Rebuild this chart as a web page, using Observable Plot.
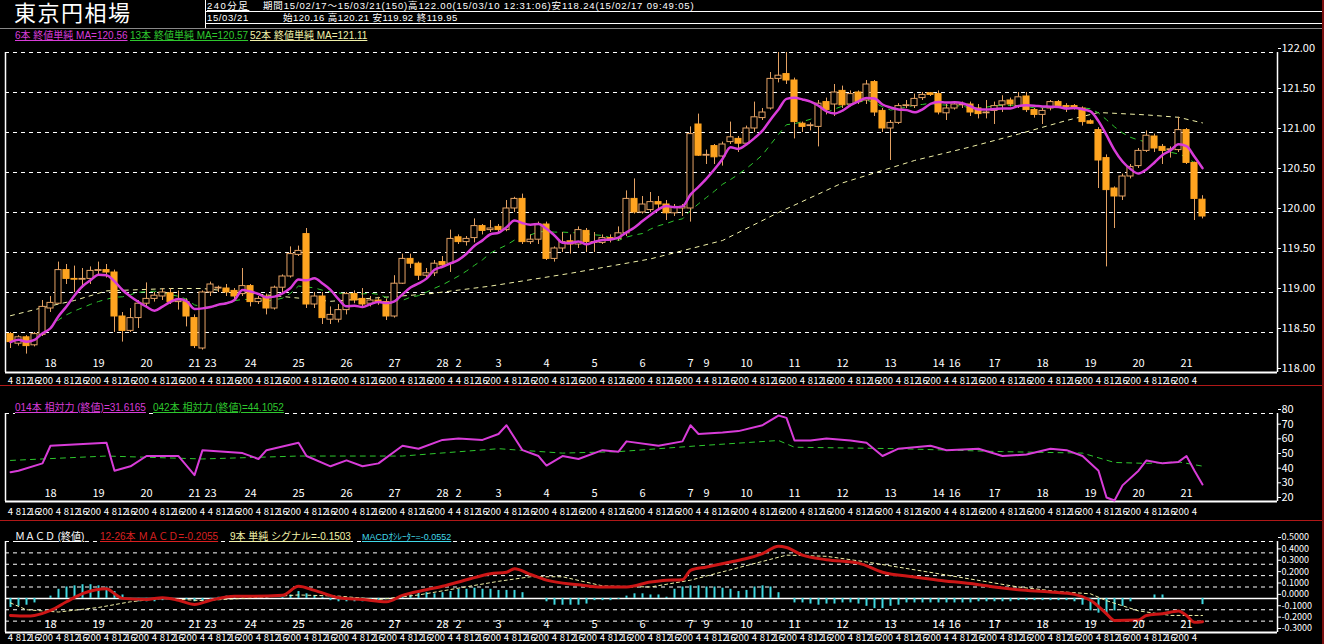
<!DOCTYPE html>
<html><head><meta charset="utf-8">
<script src="https://cdn.jsdelivr.net/npm/d3@7"></script>
<script src="https://cdn.jsdelivr.net/npm/@observablehq/plot@0.6"></script>
<style>
html,body{margin:0;padding:0;background:#000;}
#wrap{position:relative;width:1324px;height:644px;overflow:hidden;background:#000;font-family:"Noto Sans CJK JP","DejaVu Sans",sans-serif;color:#fff;}
.panel{position:absolute;left:0;}
.t{position:absolute;white-space:nowrap;font-family:"Liberation Sans","Noto Sans CJK JP",sans-serif;}
.u{text-decoration:underline;}
.ln{position:absolute;background:#fff;}
g[aria-label="hours"] text{letter-spacing:-1px;}
</style></head>
<body><div id="wrap">
<div class="panel" id="p1" style="top:0"></div>
<div class="panel" id="p2" style="top:395px"></div>
<div class="panel" id="p3" style="top:520px"></div>
</div>
<script>
// ---------- data ----------
const opens = [118.48,118.36,118.44,118.34,118.47,118.80,118.86,119.28,119.17,119.16,119.17,119.27,119.28,119.25,118.70,118.52,118.68,118.86,118.92,118.95,118.99,118.88,118.88,118.68,118.30,119.00,119.05,119.05,119.02,118.98,119.08,118.88,118.95,118.80,119.06,119.20,119.47,119.73,118.85,118.95,118.66,118.66,118.78,118.98,118.92,118.86,118.90,118.88,118.70,119.11,119.42,119.36,119.21,119.24,119.38,119.36,119.69,119.63,119.68,119.83,119.78,119.82,119.78,120.05,120.17,119.63,119.66,119.85,119.42,119.55,119.64,119.60,119.77,119.63,119.62,119.68,119.67,119.74,120.17,120.00,120.03,120.13,120.10,119.99,120.05,120.05,121.10,120.71,120.83,120.70,120.88,120.92,120.86,121.05,121.18,121.30,121.67,121.73,121.65,121.11,121.08,121.07,121.38,121.35,121.52,121.35,121.50,121.40,121.63,121.27,121.05,121.12,121.33,121.33,121.43,121.49,121.48,121.24,121.30,121.34,121.35,121.30,121.24,121.27,121.34,121.40,121.33,121.45,121.28,121.22,121.30,121.38,121.33,121.33,121.30,121.14,121.03,120.68,120.30,120.20,120.45,120.58,120.77,120.95,120.82,120.78,120.78,121.03,120.62,120.16];
const highs = [118.50,118.46,118.46,118.50,118.90,118.95,119.38,119.35,119.33,119.30,119.32,119.38,119.35,119.28,118.75,118.80,118.90,119.12,119.00,119.05,119.05,119.02,118.92,118.72,119.02,119.13,119.08,119.10,119.05,119.30,119.10,118.95,118.98,119.08,119.22,119.57,119.58,119.80,119.00,119.00,118.82,118.85,119.00,119.02,119.05,118.95,118.94,118.92,119.21,119.48,119.48,119.38,119.30,119.40,119.45,119.78,119.72,119.70,119.92,119.85,119.90,119.85,120.15,120.19,120.23,119.72,119.88,119.88,119.57,119.75,119.72,119.82,119.80,119.75,119.72,119.72,119.82,120.27,120.42,120.20,120.25,120.20,120.15,120.10,120.10,121.07,121.23,120.78,120.85,120.88,121.13,120.95,121.08,121.38,121.30,121.75,122.00,122.00,121.68,121.13,121.12,121.40,121.43,121.60,121.58,121.52,121.52,121.65,121.65,121.30,121.15,121.36,121.40,121.48,121.50,121.50,121.52,121.35,121.38,121.38,121.38,121.35,121.40,121.38,121.46,121.43,121.50,121.50,121.30,121.30,121.40,121.40,121.36,121.35,121.32,121.16,121.06,120.72,120.32,120.48,120.60,120.80,121.02,120.98,120.85,120.82,121.19,121.05,120.63,120.21];
const lows = [118.30,118.33,118.23,118.32,118.45,118.75,118.85,119.10,119.00,119.05,119.10,119.20,119.18,118.50,118.38,118.50,118.55,118.80,118.88,118.90,118.85,118.78,118.57,118.30,118.28,118.95,119.00,118.95,118.90,118.95,118.82,118.85,118.72,118.78,119.00,119.18,119.45,118.80,118.80,118.60,118.60,118.62,118.72,118.86,118.80,118.82,118.84,118.65,118.68,119.10,119.30,119.15,119.18,119.20,119.30,119.25,119.60,119.58,119.62,119.72,119.75,119.75,119.76,120.00,119.60,119.60,119.60,119.40,119.38,119.50,119.48,119.55,119.50,119.50,119.60,119.62,119.64,119.70,119.98,119.98,120.00,120.05,119.90,119.95,119.95,119.88,120.70,120.60,120.60,120.58,120.85,120.75,120.84,121.00,121.15,121.28,121.62,121.60,120.92,121.00,121.02,120.82,121.22,121.20,121.30,121.32,121.35,121.35,121.20,121.00,120.65,121.10,121.30,121.30,121.40,121.45,121.22,121.15,121.28,121.30,121.20,121.17,121.17,121.10,121.25,121.32,121.30,121.25,121.18,121.10,121.27,121.30,121.25,121.28,121.08,121.10,120.30,119.32,119.80,120.15,120.42,120.55,120.75,120.75,120.60,120.68,120.75,120.60,119.90,119.92];
const closes = [118.38,118.44,118.33,118.48,118.82,118.87,119.28,119.17,119.16,119.17,119.27,119.28,119.25,118.70,118.52,118.68,118.86,118.92,118.96,119.00,118.88,118.90,118.70,118.33,119.00,119.10,119.06,119.00,118.95,119.08,118.88,118.92,118.80,119.06,119.20,119.48,119.52,118.85,118.95,118.68,118.72,118.78,118.98,118.90,118.85,118.90,118.88,118.70,119.11,119.42,119.36,119.21,119.24,119.36,119.34,119.67,119.63,119.67,119.83,119.77,119.80,119.78,120.05,120.17,119.63,119.66,119.85,119.42,119.55,119.63,119.60,119.78,119.63,119.62,119.68,119.67,119.74,120.17,120.00,120.10,120.13,120.10,119.99,120.07,120.07,120.98,120.71,120.72,120.69,120.85,120.94,120.86,121.05,121.19,121.25,121.67,121.71,121.65,121.13,121.07,121.09,121.36,121.28,121.50,121.34,121.48,121.38,121.60,121.25,121.05,121.12,121.33,121.34,121.42,121.47,121.47,121.25,121.30,121.35,121.35,121.25,121.23,121.25,121.33,121.39,121.35,121.44,121.28,121.22,121.27,121.38,121.33,121.32,121.31,121.13,121.11,120.65,120.28,120.20,120.45,120.57,120.77,120.96,120.80,120.77,120.79,121.03,120.62,120.17,119.95];

const ma52Bar = [0,4,8,12,20,24,29,35,40,52,60,70,80,89,96,104,113,120,126,132,136,142,146,149];
const ma52Val = [118.71,118.81,118.90,119.02,119.05,119.05,119.00,118.94,118.89,118.98,119.08,119.24,119.42,119.65,120.00,120.37,120.65,120.82,120.98,121.15,121.25,121.22,121.19,121.12];

const rsi14Bar = [0,1,4,5,12,13,15,17,21,23,24,29,31,32,36,37,40,42,44,46,49,51,54,56,59,61,62,64,66,67,69,71,74,76,77,81,84,85,86,89,91,94,96,97,98,100,102,105,107,109,111,115,117,121,124,127,130,132,134,136,137,138,139,141,142,144,146,147,148,149];
const rsi14Val = [40,41,46,58,60,41,44,51,51,38,55,53,49,55,60,51,44,48,44,46,58,56,62,63,62,66,72,55,51,44.5,51,49,55,54,61,58,61,72,66,67,68,72,78.6,77,61.6,61.6,63,61.6,60,51,56,58,55,56,51,52,56,55,51,41,22.7,20.7,31,41,48,46,47,51,41,31.6];
const rsi42Bar = [0,12,24,36,49,61,69,76,86,96,98,111,124,134,138,142,146,149];
const rsi42Val = [48,51,49,51,51,56,53,54,58,61.6,57,56,54,53,46.6,46,47,44.1];

const macdBar = [0,2,3,5,7,9,12,13,14,17,19,21,23,25,28,30,34,36,38,41,44,47,49,52,54,57,60,62,63,65,67,71,74,77,80,82,84,85,87,90,92,94,96,97,99,102,106,109,113,116,120,123,126,130,133,135,137,138,141,142,144,146,147,148,149];
const macdVal = [-0.15,-0.156,-0.15,-0.106,-0.03,0.041,0.085,0.041,0.0,-0.01,0.006,-0.017,-0.053,-0.017,0.018,0.018,0.027,0.106,0.07,0.006,-0.01,-0.03,0.027,0.076,0.106,0.164,0.217,0.23,0.26,0.21,0.16,0.12,0.1,0.1,0.144,0.16,0.164,0.247,0.276,0.32,0.35,0.394,0.458,0.447,0.38,0.34,0.31,0.23,0.188,0.16,0.13,0.1,0.076,0.056,0.035,-0.017,-0.135,-0.194,-0.19,-0.15,-0.135,-0.11,-0.15,-0.21,-0.2055];
const sigBar = [0,2,6,11,15,19,24,29,36,41,46,51,56,61,65,69,74,80,85,91,97,102,107,114,120,126,131,135,137,141,145,149];
const sigVal = [-0.04,-0.1,-0.12,-0.08,-0.03,0.0,-0.02,0.0,0.03,0.02,-0.01,0.03,0.09,0.15,0.19,0.19,0.11,0.1,0.16,0.27,0.38,0.37,0.32,0.24,0.17,0.1,0.06,0.04,-0.02,-0.11,-0.15,-0.1503];
const oscVal = [-0.08,-0.07,-0.06,-0.04,0,0.02,0.08,0.1,0.11,0.12,0.12,0.11,0.1,0.06,0.03,-0.02,-0.03,-0.03,-0.03,-0.02,-0.01,0,-0.01,-0.03,-0.03,-0.02,0.01,0.02,0.02,0.02,0.02,0.01,0.01,0,0.01,0.03,0.06,0.04,0.02,0.01,-0.02,-0.03,-0.03,-0.03,-0.03,-0.02,-0.02,-0.01,0,0.02,0.05,0.05,0.05,0.04,0.05,0.06,0.08,0.08,0.09,0.08,0.08,0.07,0.07,0.07,0.05,0,0,-0.03,-0.06,-0.06,-0.06,-0.06,-0.05,-0.02,-0.02,-0.02,-0.01,0.02,0.04,0.04,0.03,0.03,0.01,0.08,0.1,0.11,0.11,0.1,0.1,0.09,0.08,0.06,0.07,0.1,0.11,0.1,0.05,0,-0.04,-0.04,-0.05,-0.06,-0.05,-0.05,-0.04,-0.04,-0.05,-0.07,-0.09,-0.09,-0.07,-0.06,-0.04,-0.04,-0.04,-0.04,-0.04,-0.04,-0.04,-0.04,-0.04,-0.03,-0.03,-0.03,-0.03,-0.03,-0.02,-0.02,-0.02,-0.02,-0.02,-0.02,-0.02,-0.03,-0.06,-0.11,-0.13,-0.14,-0.11,-0.07,-0.03,0,0,0.03,0.03,0,0,0,0,-0.055];

const dayLabelText = ["18","19","20","21","23","24","25","26","27","28","2","3","4","5","6","7","9","10","11","12","13","14","16","17","18","19","20","21"];
const dayLabelBar = [5,11,17,23,25,30,36,42,48,54,56,61,67,73,79,85,87,92,98,104,110,116,118,123,129,135,141,147];
const hourText = ("4 8 12 16 20 0 4 8 12 16 20 0 4 8 12 16 20 0 4 8 12 16 20 0 4 " +
  "4 8 12 16 20 0 4 8 12 16 20 0 4 8 12 16 20 0 4 8 12 16 20 0 4 8 12 16 20 0 4 " +
  "4 8 12 16 20 0 4 8 12 16 20 0 4 8 12 16 20 0 4 8 12 16 20 0 4 8 12 16 20 0 4 " +
  "4 8 12 16 20 0 4 8 12 16 20 0 4 8 12 16 20 0 4 8 12 16 20 0 4 8 12 16 20 0 4 " +
  "4 8 12 16 20 0 4 8 12 16 20 0 4 8 12 16 20 0 4 8 12 16 20 0 4 8 12 16 20 0 4").split(" ");

const mainTicks = [118,118.5,119,119.5,120,120.5,121,121.5,122];
const rsiTicks = [20,30,40,50,60,70,80];
const macdTicks = [-0.3,-0.2,-0.1,0,0.1,0.2,0.3,0.4,0.5];

// ---------- derived tables ----------
const bars = opens.map((o,i)=>({i,o,h:highs[i],l:lows[i],c:closes[i]}));
const ma52 = ma52Bar.map((b,k)=>({i:b,v:ma52Val[k]}));
const rsi14 = rsi14Bar.map((b,k)=>({i:b,v:rsi14Val[k]}));
const rsi42 = rsi42Bar.map((b,k)=>({i:b,v:rsi42Val[k]}));
const macd = macdBar.map((b,k)=>({i:b,v:macdVal[k]}));
const sig = sigBar.map((b,k)=>({i:b,v:sigVal[k]}));
const osc = oscVal.map((v,i)=>({i,v}));
const days = dayLabelText.map((d,k)=>({i:dayLabelBar[k],d}));
const hours = hourText.map((h,i)=>({i,h}));

// ---------- style ----------
const FONT = '"Noto Sans CJK JP","DejaVu Sans",sans-serif';
const xDomain = [-0.625, 158.375];
const WICK = "#e4a264", FILL = "#ffa420";
const MAG = "#d83cd8", GRN = "#2ec82e", YEL = "#f2f2a8";
const common = {width:1324, marginLeft:5, marginRight:47,
  x:{domain:xDomain, axis:null},
  style:{background:"transparent", color:"white", fontFamily:FONT, fontSize:"11px", overflow:"visible"}};
const dash = {stroke:"white", strokeDasharray:"4,4", strokeWidth:1};
const hw = 0.38;

function labels(ymin, dyDay, dyHour){
  return [
    Plot.text(days, {x:"i", y:()=>ymin, dy:dyDay, text:"d", fill:"white", fontSize:11}),
    Plot.text(hours, {x:"i", y:()=>ymin, dy:dyHour, text:"h", fill:"white", fontSize:9.5, ariaLabel:"hours"})
  ];
}

// main panel
const p1 = Plot.plot({...common, height:395, marginTop:52, marginBottom:23,
  y:{domain:[118,122], axis:null},
  marks:[
    Plot.ruleY(mainTicks.filter(v=>v>118), dash),
    Plot.ruleX(xDomain, {stroke:"white", strokeWidth:1.5}),
    Plot.ruleY([118], {stroke:"white", strokeWidth:2}),
    Plot.line(ma52, {x:"i", y:"v", stroke:YEL, strokeWidth:1, strokeDasharray:"4,5"}),
    Plot.lineY(bars, Plot.windowY({k:13, anchor:"end"}, {x:"i", y:"c", stroke:GRN, strokeWidth:1, strokeDasharray:"5,6"})),
    Plot.ruleX(bars, {x:"i", y1:"l", y2:"h", stroke:WICK, strokeWidth:1}),
    Plot.rect(bars.filter(d=>d.c>=d.o), {x1:d=>d.i-hw, x2:d=>d.i+hw, y1:"o", y2:"c", fill:"black", stroke:WICK, strokeWidth:1}),
    Plot.rect(bars.filter(d=>d.c<d.o), {x1:d=>d.i-hw, x2:d=>d.i+hw, y1:"o", y2:"c", fill:FILL, stroke:FILL, strokeWidth:1}),
    Plot.lineY(bars, Plot.windowY({k:6, anchor:"end"}, {x:"i", y:"c", stroke:MAG, strokeWidth:2.5, curve:"monotone-x"})),
    ...labels(118, -9, 8),
    Plot.axisY(mainTicks, {anchor:"right", label:null, tickFormat:d=>d.toFixed(2), tickSize:3, tickPadding:1, dy:-4, color:"white", fontSize:11})
  ]});
document.getElementById("p1").append(p1);

// RSI panel
const p2 = Plot.plot({...common, height:125, marginTop:18, marginBottom:19,
  y:{domain:[20,80], axis:null},
  marks:[
    Plot.ruleY([80], dash),
    Plot.ruleX(xDomain, {stroke:"white", strokeWidth:1.5}),
    Plot.ruleY([20], {stroke:"white", strokeWidth:2}),
    Plot.line(rsi42, {x:"i", y:"v", stroke:GRN, strokeWidth:1, strokeDasharray:"5,5"}),
    Plot.line(rsi14, {x:"i", y:"v", stroke:MAG, strokeWidth:2}),
    ...labels(20, -8, 10),
    Plot.axisY(rsiTicks, {anchor:"right", label:null, tickFormat:d=>String(d), tickSize:3, tickPadding:1, dy:-4, color:"white", fontSize:11})
  ]});
document.getElementById("p2").append(p2);

// MACD panel
const p3 = Plot.plot({...common, height:124, marginTop:21, marginBottom:12,
  y:{domain:[-0.3,0.5], axis:null},
  marks:[
    Plot.ruleY(macdTicks.filter(v=>v!==0 && v>-0.3), dash),
    Plot.ruleX(xDomain, {stroke:"white", strokeWidth:1.5}),
    Plot.ruleY([0], {stroke:"white", strokeWidth:1.5}),
    Plot.ruleY([-0.3], {stroke:"white", strokeWidth:2}),
    Plot.ruleX(osc, {x:"i", y1:()=>0, y2:"v", stroke:"#3fd8e0", strokeWidth:2}),
    Plot.line(sig, {x:"i", y:"v", stroke:YEL, strokeWidth:1, strokeDasharray:"3,3"}),
    Plot.line(macd, {x:"i", y:"v", stroke:"#cc1616", strokeWidth:3, curve:"monotone-x"}),
    ...labels(-0.3, -8, 5),
    Plot.axisY(macdTicks, {anchor:"right", label:null, tickFormat:d=>d.toFixed(4), tickSize:3, tickPadding:1, dy:-4, color:"white", fontSize:9})
  ]});
document.getElementById("p3").append(p3);

// ---------- header / legends (HTML text) ----------
const wrap = document.getElementById("wrap");
function addText(txt, left, top, color, size, cls, ls){
  const d = document.createElement("div");
  d.className = "t" + (cls ? " " + cls : "");
  d.textContent = txt;
  d.style.left = left + "px"; d.style.top = top + "px"; d.style.color = color;
  d.style.fontSize = size + "px"; d.style.lineHeight = Math.ceil(size * 1.15) + "px";
  if (ls) d.style.letterSpacing = ls + "px";
  wrap.append(d); return d;
}
function addLine(left, top, w, h, color){
  const d = document.createElement("div");
  d.className = "ln";
  Object.assign(d.style, {left:left+"px", top:top+"px", width:w+"px", height:h+"px", background:color||"#fff"});
  wrap.append(d);
}
addLine(205, 0, 1, 28); addLine(205, 11, 1119, 1); addLine(205, 23, 1119, 1);
addLine(0, 28, 1324, 1, "#888");
addLine(0, 385, 1324, 1, "#b01818");
addLine(0, 520, 1324, 1, "#b01818");
addLine(1322, 0, 2, 644, "#7a1010");

addText("東京円相場", 14, 1, "#fff", 22, null, 1.5);
addText("240分足", 207, 0, "#fff", 9.5, "u", 1.5);
addText("期間15/02/17〜15/03/21(150)高122.00(15/03/10 12:31:06)安118.24(15/02/17 09:49:05)", 263, 0, "#fff", 9.5, null, 0.85);
addText("15/03/21", 207, 12, "#fff", 9.5, null, 0.6);
addText("始120.16 高120.21 安119.92 終119.95", 283, 12, "#fff", 9.5, null, 0.45);

addText("6本 終値単純 MA=120.56", 15, 30, MAG, 10, "u");
addText("13本 終値単純 MA=120.57", 130, 30, GRN, 10, "u");
addText("52本 終値単純 MA=121.11", 250, 30, YEL, 10, "u");

const l2a = addText("014本 相対力 (終値)=31.6165", 15, 402, MAG, 10, "u");
const l2b = addText("042本 相対力 (終値)=44.1052", 153, 402, GRN, 10, "u");
[l2a,l2b].forEach(d=>d.style.background="#000");

const l3 = [
  addText("ＭＡＣＤ (終値)", 15, 531, "#fff", 10, "u"),
  addText("12-26本 ＭＡＣＤ=-0.2055", 100, 531, "#d82020", 10, "u"),
  addText("9本 単純 シグナル=-0.1503", 230, 531, YEL, 10, "u"),
  addText("MACDｵｼﾚｰﾀｰ=-0.0552", 362, 532, "#40d8e8", 9, "u")
];
l3.forEach(d=>d.style.background="#000");
</script>
</body></html>
